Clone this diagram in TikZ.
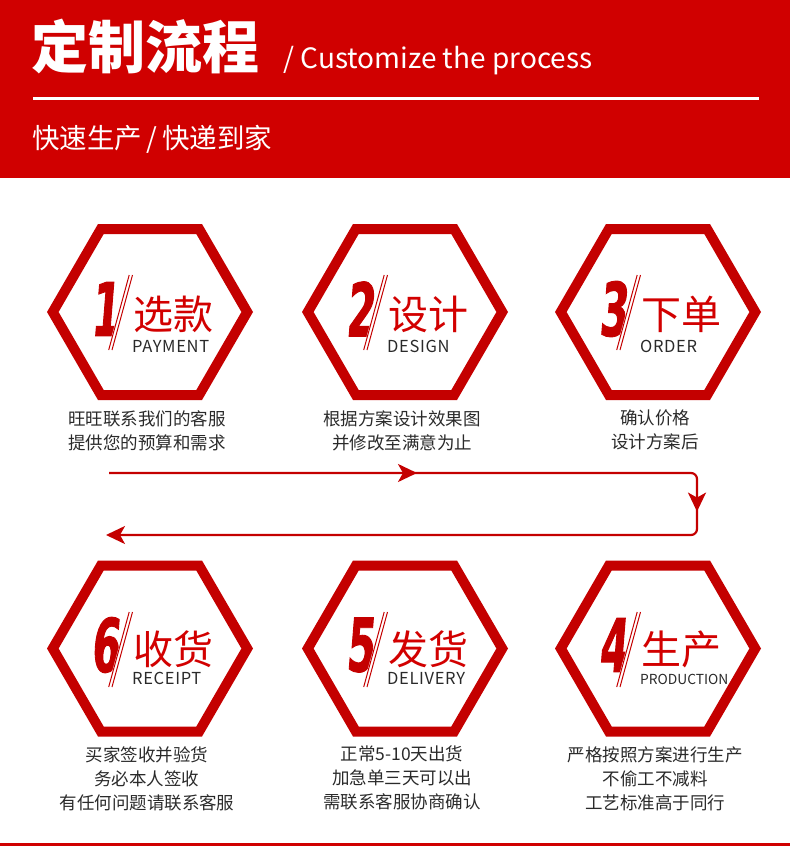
\documentclass[tikz,border=0pt]{standalone}
\usepackage{fontspec}
\usetikzlibrary{arrows.meta,decorations.markings}
\newfontfamily\cjk{Noto Sans CJK SC}
\newfontfamily\numfont[FakeSlant=0.08,FakeStretch=0.55,FakeBold=1.2]{DejaVu Sans}
\definecolor{headred}{HTML}{D00000}
\definecolor{hexred}{HTML}{C40000}
\definecolor{txtred}{HTML}{D20000}
\definecolor{txtdark}{HTML}{2A2A2A}
\begin{document}
\begin{tikzpicture}[x=1pt,y=-1pt,
  hexfill/.style={fill=hexred,even odd rule},
  numstyle/.style={inner sep=0,text=hexred,font=\numfont\bfseries\fontsize{74}{74}\selectfont},
  cnstyle/.style={anchor=base west,inner sep=0,text=txtred,font=\cjk\fontsize{40}{40}\selectfont},
  enstyle/.style={anchor=base west,inner sep=0,text=txtdark,font=\cjk\fontsize{16.5}{16.5}\selectfont\addfontfeature{LetterSpace=4}},
  descstyle/.style={anchor=north,inner sep=0,align=center,text=txtdark,font=\cjk\fontsize{17.5}{24}\selectfont},
  slashw/.style={white,line width=5},
  slashr/.style={hexred,line width=1},
  conn/.style={hexred,line width=2.2},
  tip/.tip={Stealth[length=19pt,width=18pt,inset=5pt]}
]
\useasboundingbox (0,0) rectangle (790,846);
% header
\fill[headred] (0,0) rectangle (790,178);
\node[anchor=base west,inner sep=0,text=white,font=\cjk\bfseries\fontsize{57}{57}\selectfont] (title) at (31,68) {定制流程};
\node[anchor=base west,inner sep=0,text=white,font=\cjk\fontsize{28}{28}\selectfont] (titleen) at (283,68) {/ Customize the process};
\draw[white,line width=3] (33,98) -- (759,98);
\node[anchor=base west,inner sep=0,text=white,font=\cjk\fontsize{27.5}{27.5}\selectfont] (sub) at (32,148) {快速生产\,/\,快递到家};
% bottom line
\fill[headred] (0,843) rectangle (790,846);

% hexagon helper
\newcommand\hexring[2]{%
  \fill[hexfill,shift={(#1,#2)}] (-103,0) -- (-52,-88) -- (52,-88) -- (103,0) -- (52,88) -- (-52,88) -- cycle
    (-91.4,0) -- (-46.3,-78) -- (46.3,-78) -- (91.4,0) -- (46.3,78) -- (-46.3,78) -- cycle;}
\newcommand\slashpair[3]{% cx, ytop, ybottom
  \draw[slashw] (#1-19,#2) -- (#1-39.5,#3);
  \draw[slashr] (#1-17.5,#2) -- (#1-38,#3);
  \draw[slashr] (#1-20.8,#2) -- (#1-41.3,#3);}

% row 1
\hexring{150}{312}
\node[numstyle] (d1) at (150-45,309) {1};
\slashpair{150}{275}{350}
\node[cnstyle] (c1) at (150-17,329) {选款};
\node[enstyle] (e1) at (150-18,352) {PAYMENT};
\node[descstyle] (t1) at (150-3,410) {旺旺联系我们的客服\\提供您的预算和需求};

\hexring{405}{312}
\node[numstyle] (d2) at (405-45,309) {2};
\slashpair{405}{275}{350}
\node[cnstyle] (c2) at (405-17,329) {设计};
\node[enstyle] (e2) at (405-18,352) {DESIGN};
\node[descstyle] (t2) at (405-3,410) {根据方案设计效果图\\并修改至满意为止};

\hexring{658}{312}
\node[numstyle] (d3) at (658-45,309) {3};
\slashpair{658}{275}{350}
\node[cnstyle] (c3) at (658-17,329) {下单};
\node[enstyle] (e3) at (658-18,352) {ORDER};
\node[descstyle] (t3) at (658-3,410) {确认价格\\设计方案后};

% row 2
\hexring{150}{648.5}
\node[numstyle] (d6) at (150-45,645) {6};
\slashpair{150}{612}{687}
\node[cnstyle] (c6) at (150-17,664) {收货};
\node[enstyle] (e6) at (150-18,684) {RECEIPT};
\node[descstyle] (t6) at (150-3,746) {买家签收并验货\\务必本人签收\\有任何问题请联系客服};

\hexring{405}{648.5}
\node[numstyle] (d5) at (405-45,645) {5};
\slashpair{405}{612}{687}
\node[cnstyle] (c5) at (405-17,664) {发货};
\node[enstyle] (e5) at (405-18,684) {DELIVERY};
\node[descstyle] (t5) at (405-3,746) {正常5-10天出货\\加急单三天可以出\\需联系客服协商确认};

\hexring{658}{648.5}
\node[numstyle] (d4) at (658-45,645) {4};
\slashpair{658}{612}{687}
\node[cnstyle] (c4) at (658-17,664) {生产};
\node[enstyle,font=\cjk\fontsize{13.8}{13.8}\selectfont] (e4) at (658-18,684) {PRODUCTION};
\node[descstyle] (t4) at (658-3,746) {严格按照方案进行生产\\不偷工不减料\\工艺标准高于同行};

% connector
\coordinate (p0) at (109,473);
\coordinate (p1) at (697,473);
\coordinate (p2) at (697,535);
\coordinate (p3) at (106,535);
\draw[conn,rounded corners=6,-tip,postaction={decorate},
  decoration={markings,
    mark=at position 308pt with {\arrow{tip}},
    mark=at position 624pt with {\arrow{tip}}}]
  (p0) -- (p1) -- (p2) -- (p3);
\end{tikzpicture}
\end{document}
